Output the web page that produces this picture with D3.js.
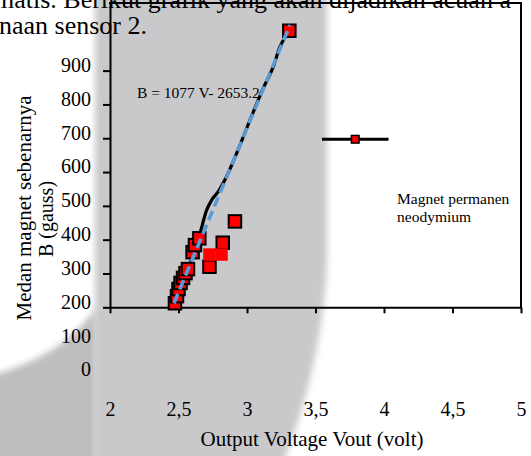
<!DOCTYPE html>
<html lang="id">
<head>
<meta charset="UTF-8">
<title>Grafik sensor 2</title>
<style>
    body { margin: 0; background: #fff; }
    svg { display: block; font-family: "Liberation Serif", "Times New Roman", serif; }
</style>
</head>
<body>
<script src="https://cdnjs.cloudflare.com/ajax/libs/d3/7.8.5/d3.min.js"></script>
<script>
// measured points, Vout (volt) and B (gauss)
const vout = [2.474, 2.489, 2.50, 2.515, 2.533, 2.551, 2.569, 2.603, 2.62, 2.652, 2.726, 2.823, 2.912, 3.309];
const bField = [212, 233, 254, 272, 287, 301, 313, 363, 384, 404, 320, 391, 454, 1018];

// two points drawn without border
const voutPlain = [2.726, 2.814];
const bPlain = [356, 356];

// magnet permanen neodymium, with horizontal error bar
const magnetV = [3.79];
const magnetB = [697];
const magnetErr = [0.243];

// smoothed black line
const curveV = [2.474, 2.560, 2.657, 2.706, 2.742, 2.790, 2.839, 2.925, 3.022, 3.119, 3.192, 3.241, 3.290, 3.309];
const curveB = [213, 301, 419, 488, 517, 542, 577, 656, 754, 848, 912, 971, 1006, 1018];

// linear fit, blue dashed
const fitV = [2.467, 3.314];
const fitB = [212, 1035];

const xTicks = [2, 2.5, 3, 3.5, 4, 4.5, 5];
const yTicks = [200, 300, 400, 500, 600, 700, 800, 900];
const yLabels = [0, 100, 200, 300, 400, 500, 600, 700, 800, 900];

const width = 531, height = 456;

const svg = d3.select('body').append('svg')
    .attr('width', width)
    .attr('height', height);

const x = d3.scaleLinear().domain([2, 5]).range([110, 521]);
const y = d3.scaleLinear().domain([200, 1100]).range([307.3, 3]);

// scanned page background
const defs = svg.append('defs');
defs.append('filter').attr('id', 'soft')
    .attr('x', '-10%').attr('y', '-10%').attr('width', '120%').attr('height', '120%')
    .append('feGaussianBlur').attr('stdDeviation', 3);

svg.append('path')
    .attr('d', 'M95,-20 L327,-20 L327,255 C326,330 305,410 280,470 L95,470 Z')
    .attr('fill', '#c9c9cb')
    .attr('filter', 'url(#soft)');

svg.append('path')
    .attr('d', 'M-20,378 L0,373 C35,362 70,345 96,308 L96,470 L-20,470 Z')
    .attr('fill', '#bebec0')
    .attr('filter', 'url(#soft)');

// text of the page
svg.append('text')
    .attr('x', -6).attr('y', 7.5)
    .attr('font-size', 26)
    .text('matis. Berikut grafik yang akan dijadikan acuan a');

svg.append('text')
    .attr('x', -1).attr('y', 33.5)
    .attr('font-size', 26)
    .text('naan sensor 2.');

// axes
const xAxis = svg.append('g')
    .attr('transform', `translate(0, ${y(200)})`)
    .call(d3.axisBottom(x).tickValues(xTicks).tickSize(6).tickSizeOuter(0).tickFormat(''));

const yAxis = svg.append('g')
    .attr('transform', `translate(${x(2)}, 0)`)
    .call(d3.axisLeft(y).tickValues(yTicks).tickSize(7).tickSizeOuter(0).tickFormat(''));

svg.selectAll('.domain, .tick line')
    .attr('stroke', '#000')
    .attr('stroke-width', 2);

// top and right border
svg.append('line')
    .attr('x1', x(2) - 1).attr('x2', x(5) + 1)
    .attr('y1', y(1100)).attr('y2', y(1100))
    .attr('stroke', '#000').attr('stroke-width', 2);
svg.append('line')
    .attr('x1', x(5)).attr('x2', x(5))
    .attr('y1', y(1100)).attr('y2', y(200))
    .attr('stroke', '#000').attr('stroke-width', 2);

// tick labels
const xLab = svg.append('g')
    .attr('transform', 'translate(0, 402)')
    .call(d3.axisBottom(x).tickValues(xTicks).tickSize(0).tickPadding(0)
        .tickFormat(d => String(d).replace('.', ',')));
xLab.select('.domain').remove();

const yLab = svg.append('g')
    .attr('transform', 'translate(91, -5.5)')
    .call(d3.axisLeft(y).tickValues(yLabels).tickSize(0).tickPadding(0));
yLab.select('.domain').remove();

svg.selectAll('.tick text')
    .attr('font-family', '"Liberation Serif", "Times New Roman", serif')
    .attr('font-size', 20)
    .attr('fill', '#000');

// axis titles
svg.append('text')
    .attr('x', 312).attr('y', 446)
    .attr('text-anchor', 'middle')
    .attr('font-size', 21)
    .text('Output Voltage Vout (volt)');

svg.append('text')
    .attr('transform', 'translate(31, 208) rotate(-90)')
    .attr('text-anchor', 'middle')
    .attr('font-size', 21)
    .text('Medan magnet sebenarnya');

svg.append('text')
    .attr('transform', 'translate(53, 219) rotate(-90)')
    .attr('text-anchor', 'middle')
    .attr('font-size', 20)
    .text('B (gauss)');

// black smoothed line
const pts = curveV.map((v, i) => [v, curveB[i]]);
svg.append('path')
    .datum(pts)
    .attr('fill', 'none')
    .attr('stroke', '#000')
    .attr('stroke-width', 3.2)
    .attr('d', d3.line().x(d => x(d[0])).y(d => y(d[1])).curve(d3.curveMonotoneX));

// squares
const sq = 12.5;
svg.selectAll('.pt')
    .data(vout.map((v, i) => [v, bField[i]]))
    .enter().append('rect')
    .attr('class', 'pt')
    .attr('x', d => x(d[0]) - sq / 2)
    .attr('y', d => y(d[1]) - sq / 2)
    .attr('width', sq).attr('height', sq)
    .attr('fill', '#ff0000')
    .attr('stroke', '#000')
    .attr('stroke-width', 2);

svg.selectAll('.pt2')
    .data(voutPlain.map((v, i) => [v, bPlain[i]]))
    .enter().append('rect')
    .attr('class', 'pt2')
    .attr('x', d => x(d[0]) - sq / 2)
    .attr('y', d => y(d[1]) - sq / 2)
    .attr('width', sq).attr('height', sq)
    .attr('fill', '#ff0000');

// linear fit
svg.append('path')
    .datum(fitV.map((v, i) => [v, fitB[i]]))
    .attr('fill', 'none')
    .attr('stroke', '#5b9bd5')
    .attr('stroke-width', 3.6)
    .attr('stroke-dasharray', '10,5')
    .attr('d', d3.line().x(d => x(d[0])).y(d => y(d[1])));

svg.append('text')
    .attr('x', 137).attr('y', 98)
    .attr('font-size', 15.5)
    .text('B = 1077 V- 2653.2');

// magnet point with error bar
magnetV.forEach((v, i) => {
    svg.append('line')
        .attr('x1', x(v - magnetErr[i])).attr('x2', x(v + magnetErr[i]))
        .attr('y1', y(magnetB[i])).attr('y2', y(magnetB[i]))
        .attr('stroke', '#000').attr('stroke-width', 3);
    svg.append('rect')
        .attr('x', x(v) - 3.8).attr('y', y(magnetB[i]) - 3.8)
        .attr('width', 7.6).attr('height', 7.6)
        .attr('fill', '#ff0000')
        .attr('stroke', '#000').attr('stroke-width', 1.5);
});

svg.append('text')
    .attr('x', 397).attr('y', 204)
    .attr('font-size', 15.5)
    .text('Magnet permanen');
svg.append('text')
    .attr('x', 397).attr('y', 222)
    .attr('font-size', 15.5)
    .text('neodymium');
</script>
</body>
</html>
